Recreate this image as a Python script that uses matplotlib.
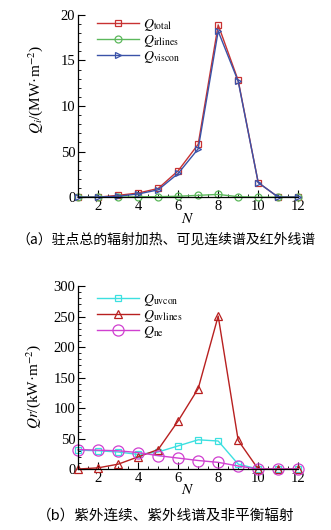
import matplotlib
matplotlib.use("Agg")
import matplotlib.pyplot as plt
from matplotlib.ticker import MultipleLocator

plt.rcParams["font.family"] = ["Liberation Serif", "DejaVu Serif"]
plt.rcParams["mathtext.fontset"] = "stix"

N = [1, 2, 3, 4, 5, 6, 7, 8, 9, 10, 11, 12]

# (a) MW/m^2
q_total = [0.0, 0.0, 0.2, 0.45, 0.95, 2.9, 5.8, 18.9, 12.8, 1.6, 0.0, 0.0]
q_irlines = [0.0, 0.0, 0.0, 0.05, 0.05, 0.1, 0.2, 0.3, 0.05, 0.0, 0.0, 0.0]
q_viscon = [0.0, 0.0, 0.1, 0.35, 0.8, 2.6, 5.3, 18.2, 12.7, 1.6, 0.0, 0.0]
top_yticks = [0, 5, 10, 15, 20]
top_yticklabels = ["0", "50", "10", "15", "20"]

# (b) kW/m^2
q_uvcon = [31, 30, 28, 24, 28, 38, 48, 46, 8, 0, 0, 0]
q_uvlines = [0, 2, 8, 20, 32, 79, 132, 251, 47, 0, 0, 0]
q_ne = [32, 31, 30, 27, 22, 18, 14, 11, 5, 0, 0, 0]

cap_a = "（a）驻点总的辐射加热、可见连续谱及红外线谱"
cap_b = "（b）紫外连续、紫外线谱及非平衡辐射"

fig = plt.figure(figsize=(3.31, 5.30), dpi=100)
ax1 = fig.add_axes([0.236, 0.628, 0.665, 0.344])
ax2 = fig.add_axes([0.236, 0.115, 0.665, 0.345])


def style(ax, ymax, ymaj, ymin):
    for s in ("top", "right"):
        ax.spines[s].set_visible(False)
    for s in ("left", "bottom"):
        ax.spines[s].set_linewidth(0.9)
    ax.set_xlim(1, 12)
    ax.set_ylim(0, ymax)
    ax.xaxis.set_major_locator(MultipleLocator(2))
    ax.xaxis.set_minor_locator(MultipleLocator(0.5))
    ax.yaxis.set_major_locator(MultipleLocator(ymaj))
    ax.yaxis.set_minor_locator(MultipleLocator(ymin))
    ax.tick_params(which="major", direction="in", length=5, width=0.8, labelsize=10.5, pad=2)
    ax.tick_params(which="minor", direction="in", length=2.5, width=0.6)
    ax.set_xlabel("$N$", fontsize=11, labelpad=-1)


kw = dict(lw=1.0, mfc="none", mew=0.9, clip_on=False)
leg_kw = dict(loc="upper left", frameon=False, fontsize=10, handlelength=3.0,
              handletextpad=0.3, labelspacing=0.0, borderaxespad=0)

ax1.plot(N, q_total, color="#c83232", marker="s", ms=5, label=r"$Q_{\rm total}$", **kw)
ax1.plot(N, q_irlines, color="#5cb85c", marker="o", ms=5, label=r"$Q_{\rm irlines}$", **kw)
ax1.plot(N, q_viscon, color="#3a52a8", marker=">", ms=5, label=r"$Q_{\rm viscon}$", **kw)
style(ax1, 20, 5, 1)
ax1.set_yticks(top_yticks)
ax1.set_yticklabels(top_yticklabels)
ax1.set_ylabel(r"$Q_i$/(MW·m$^{-2}$)", fontsize=11)
ax1.yaxis.set_label_coords(-0.15, 0.59)
ax1.legend(bbox_to_anchor=(0.06, 1.02), **leg_kw)

ax2.plot(N, q_uvcon, color="#3ce0e0", marker="s", ms=5, label=r"$Q_{\rm uvcon}$", **kw)
ax2.plot(N, q_uvlines, color="#b82020", marker="^", ms=6, label=r"$Q_{\rm uvlines}$", **kw)
ax2.plot(N, q_ne, color="#d040d0", marker="o", ms=8, label=r"$Q_{\rm ne}$", **kw)
style(ax2, 300, 50, 10)
ax2.set_ylabel(r"$Qr$/(kW·m$^{-2}$)", fontsize=11)
ax2.yaxis.set_label_coords(-0.16, 0.45)
ax2.legend(bbox_to_anchor=(0.06, 1.0), **leg_kw)

fig.text(0.5, 1 - 240 / 530, cap_a, ha="center", va="center", fontsize=10,
         family=["Noto Sans CJK SC", "DejaVu Sans"])
fig.text(0.5, 1 - 517 / 530, cap_b, ha="center", va="center", fontsize=10.5,
         family=["Noto Sans CJK SC", "DejaVu Sans"])

fig.savefig("out.png", dpi=100)
